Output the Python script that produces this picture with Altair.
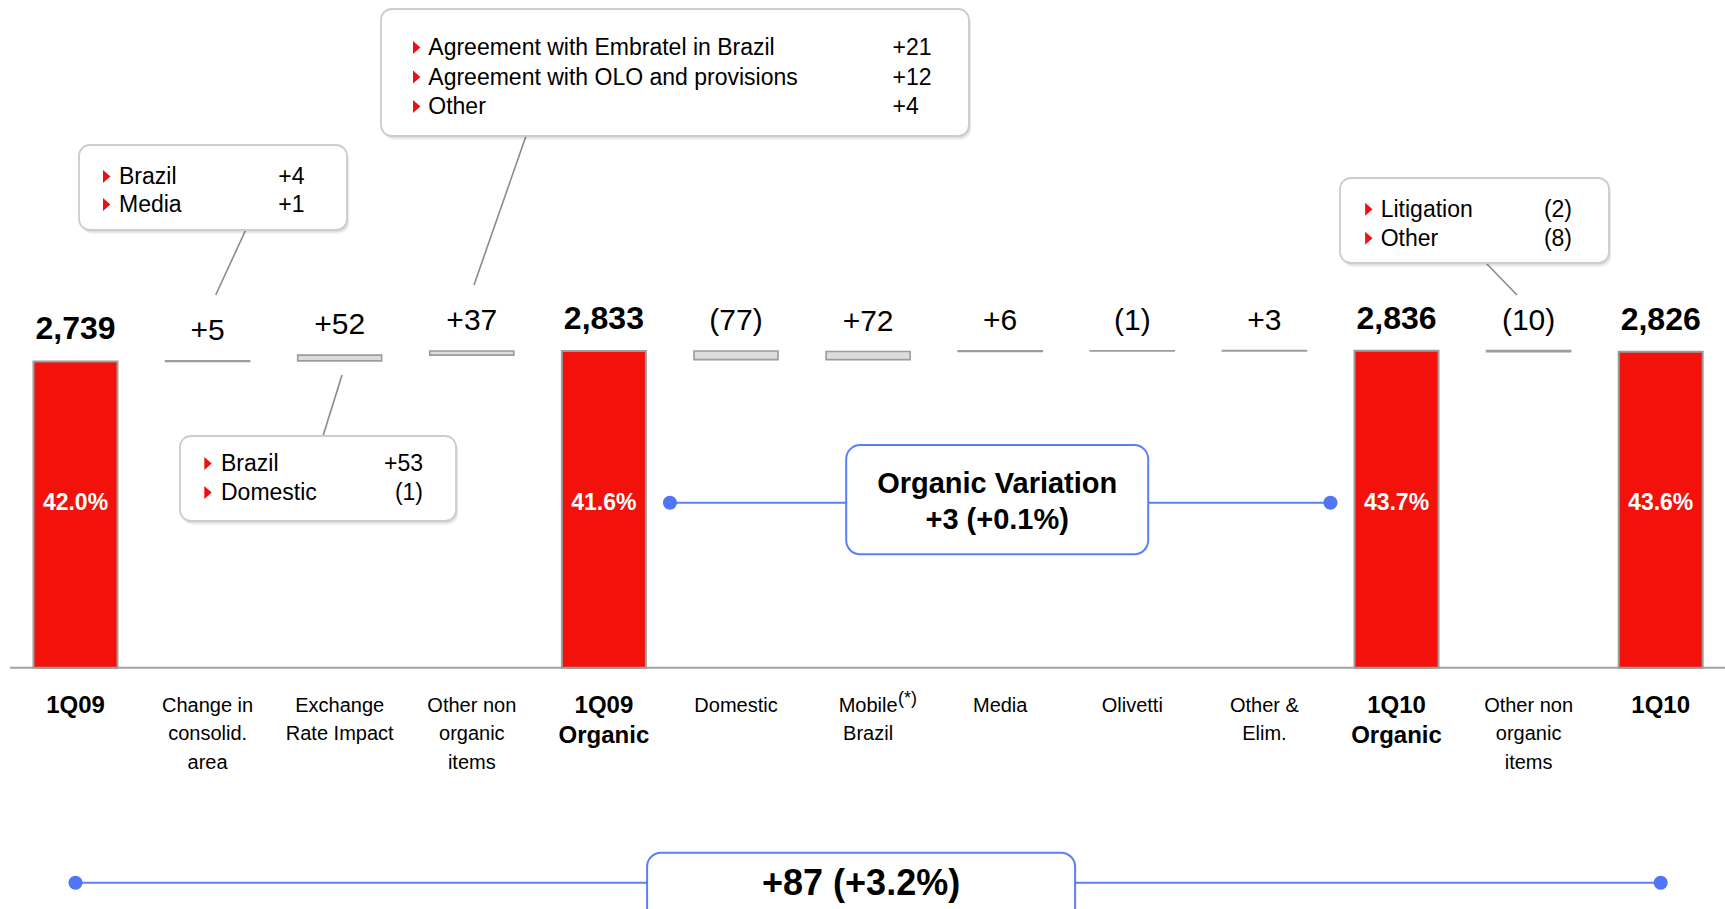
import altair as alt
import pandas as pd

# ---------------- values ----------------
categories = ["1Q09", "Change in\nconsolid.\narea", "Exchange\nRate Impact", "Other non\norganic\nitems",
              "1Q09\nOrganic", "Domestic", "Mobile\nBrazil", "Media", "Olivetti", "Other &\nElim.",
              "1Q10\nOrganic", "Other non\norganic\nitems", "1Q10"]
is_total = [True, False, False, False, True, False, False, False, False, False, True, False, True]
amounts = [2739, 5, 52, 37, 2833, -77, 72, 6, -1, 3, 2836, -10, 2826]
margins = ["42.0%", "", "", "", "41.6%", "", "", "", "", "", "43.7%", "", "43.6%"]

consolid_items = ["Brazil", "Media"]
consolid_values = [4, 1]
fx_items = ["Brazil", "Domestic"]
fx_values = [53, -1]
nonorg_items = ["Agreement with Embratel in Brazil", "Agreement with OLO and provisions", "Other"]
nonorg_values = [21, 12, 4]
nonorg2_items = ["Litigation", "Other"]
nonorg2_values = [-2, -8]

# ---------------- styling ----------------
FONT = "Liberation Sans, Arial, Helvetica, sans-serif"
RED = "#f2110b"
EDGE = "#9c9c9c"
BLUE = "#5b7ff6"
DOT = "#4e76f6"
X0, STEP = 75.5, 132.1
BAR_HALF = 42 / STEP

xs = alt.Scale(domain=[0, 12], range=[X0, X0 + 12 * STEP], nice=False, zero=False)
ys = alt.Scale(domain=[0, 1000], range=[667.7, 667.7 - 111.8], nice=False, zero=False)


def fmt_delta(v):
    return f"+{v}" if v >= 0 else f"({-v})"


# ---------------- waterfall table ----------------
rows = []
running = 0
for i, (cat, tot, amt, mg) in enumerate(zip(categories, is_total, amounts, margins)):
    if tot:
        start, end = 0, amt
        running = amt
    else:
        start, end = running, running + amt
        running += amt
    rows.append(dict(i=i, cat=cat, total=tot, start=start, end=end, top=max(start, end),
                     label=f"{amt:,}" if tot else fmt_delta(amt), margin=mg,
                     x0=i - BAR_HALF, x1=i + BAR_HALF))
bars = pd.DataFrame(rows)
totals = bars[bars["total"]]
deltas = bars[~bars["total"]]

X = lambda f: alt.X(f, type="quantitative", scale=xs, axis=None)
Y = lambda f: alt.Y(f, type="quantitative", scale=ys, axis=None)
PX = lambda f: alt.X(f, type="quantitative", scale=None, axis=None)
PY = lambda f: alt.Y(f, type="quantitative", scale=None, axis=None)

layers = []

# baseline
layers.append(alt.Chart(pd.DataFrame({"v": [0]})).mark_rule(color="#a3a3a3", strokeWidth=2).encode(
    x=alt.value(10), x2=alt.value(1725), y=Y("v")))

# bars
layers.append(alt.Chart(totals).mark_rect(fill=RED, stroke=EDGE, strokeWidth=2).encode(
    x=X("x0"), x2=alt.X2("x1"), y=Y("start"), y2=alt.Y2("end")))
layers.append(alt.Chart(deltas).mark_rect(fill="#dcdcdc", stroke=EDGE, strokeWidth=1.6).encode(
    x=X("x0"), x2=alt.X2("x1"), y=Y("start"), y2=alt.Y2("end")))

# value labels
layers.append(alt.Chart(totals).mark_text(font=FONT, fontSize=32, fontWeight="bold", color="black",
                                          baseline="alphabetic", dy=-22).encode(
    x=X("i"), y=Y("end"), text="label:N"))
layers.append(alt.Chart(deltas).mark_text(font=FONT, fontSize=30, color="black",
                                          baseline="alphabetic", dy=-21).encode(
    x=X("i"), y=Y("top"), text="label:N"))
layers.append(alt.Chart(totals).mark_text(font=FONT, fontSize=23, fontWeight="bold", color="white",
                                          baseline="middle").encode(
    x=X("i"), y=alt.value(503), text="margin:N"))

# category labels
layers.append(alt.Chart(totals).mark_text(font=FONT, fontSize=24, fontWeight="bold", color="black",
                                          baseline="alphabetic", lineBreak="\n", lineHeight=29.5).encode(
    x=X("i"), y=alt.value(713), text="cat:N"))
layers.append(alt.Chart(deltas).mark_text(font=FONT, fontSize=20, color="black",
                                          baseline="alphabetic", lineBreak="\n", lineHeight=28.3).encode(
    x=X("i"), y=alt.value(712), text="cat:N"))
layers.append(alt.Chart(bars[bars["cat"] == "Mobile\nBrazil"]).mark_text(
    font=FONT, fontSize=18, color="black", align="left", baseline="alphabetic", dx=30, dy=-8).encode(
    x=X("i"), y=alt.value(712), text=alt.value("(*)")))

# ---------------- callouts ----------------
callouts = [
    dict(items=consolid_items, values=consolid_values, box=(79, 347, 145, 230), first=184, gap=28,
         bullet=106.7, text=119, value=278.3, side="left", leader=(245.7, 230, 215.7, 295)),
    dict(items=fx_items, values=fx_values, box=(180, 456, 436, 521), first=471, gap=29,
         bullet=208, text=221, value=423, side="right", leader=(342, 375, 323, 436)),
    dict(items=nonorg_items, values=nonorg_values, box=(381, 969, 9, 136), first=55, gap=29.5,
         bullet=416.7, text=428.3, value=892.5, side="left", leader=(526, 136, 474, 285)),
    dict(items=nonorg2_items, values=nonorg2_values, box=(1340, 1609, 178, 263), first=216.7, gap=29,
         bullet=1368.8, text=1380.7, value=1572, side="right", leader=(1486, 263, 1517, 295)),
]
box_rows, leader_rows, item_rows = [], [], []
for c in callouts:
    bx0, bx1, by0, by1 = c["box"]
    box_rows.append(dict(x0=bx0, x1=bx1, y0=by0, y1=by1))
    lx0, ly0, lx1, ly1 = c["leader"]
    leader_rows.append(dict(x0=lx0, y0=ly0, x1=lx1, y1=ly1))
    for k, (name, val) in enumerate(zip(c["items"], c["values"])):
        item_rows.append(dict(y=c["first"] + k * c["gap"], name=name, val=fmt_delta(val),
                              bx=c["bullet"], tx=c["text"], vx=c["value"], side=c["side"]))
boxes = pd.DataFrame(box_rows)
leaders = pd.DataFrame(leader_rows)
items = pd.DataFrame(item_rows)

layers.append(alt.Chart(leaders).mark_rule(color="#8a8a8a", strokeWidth=1.6).encode(
    x=PX("x0"), y=PY("y0"), x2=alt.X2("x1"), y2=alt.Y2("y1")))
for off, op in [(4, 0.05), (2.5, 0.06), (1.2, 0.07)]:
    sh = boxes.assign(x0=boxes["x0"] + off * 0.6, x1=boxes["x1"] + off * 0.6,
                      y0=boxes["y0"] + off, y1=boxes["y1"] + off)
    layers.append(alt.Chart(sh).mark_rect(fill="black", opacity=op, cornerRadius=11).encode(
        x=PX("x0"), x2=alt.X2("x1"), y=PY("y0"), y2=alt.Y2("y1")))
layers.append(alt.Chart(boxes).mark_rect(fill="white", stroke="#cdcdcd", strokeWidth=1.8, cornerRadius=11).encode(
    x=PX("x0"), x2=alt.X2("x1"), y=PY("y0"), y2=alt.Y2("y1")))
layers.append(alt.Chart(items).transform_calculate(by="datum.y - 7.5").mark_point(
    shape="M-0.57,-1L0.57,0L-0.57,1Z", filled=True, size=169, color="#ee1010", opacity=1, strokeWidth=0).encode(
    x=PX("bx"), y=PY("by")))
layers.append(alt.Chart(items).mark_text(font=FONT, fontSize=23, color="black", align="left",
                                         baseline="alphabetic").encode(
    x=PX("tx"), y=PY("y"), text="name:N"))
layers.append(alt.Chart(items[items["side"] == "left"]).mark_text(font=FONT, fontSize=23, color="black",
                                                                  align="left", baseline="alphabetic").encode(
    x=PX("vx"), y=PY("y"), text="val:N"))
layers.append(alt.Chart(items[items["side"] == "right"]).mark_text(font=FONT, fontSize=23, color="black",
                                                                   align="right", baseline="alphabetic").encode(
    x=PX("vx"), y=PY("y"), text="val:N"))

# ---------------- variation connectors ----------------
org_delta = amounts[10] - amounts[4]
tot_delta = amounts[12] - amounts[0]
connectors = pd.DataFrame([
    dict(i0=4.5, i1=9.5, y=502.7, half=151, shift=-3, top=445, bottom=554.3, ty=492.5, fs=29,
         text=f"Organic Variation\n{fmt_delta(org_delta)} ({org_delta / amounts[4] * 100:+.1f}%)"),
    dict(i0=0, i1=12, y=882.7, half=214, shift=-7, top=852.7, bottom=940, ty=895, fs=36,
         text=f"{fmt_delta(tot_delta)} ({tot_delta / amounts[0] * 100:+.1f}%)"),
])
connectors["mid"] = (connectors["i0"] + connectors["i1"]) / 2 + connectors["shift"] / STEP
connectors["bx0"] = connectors["mid"] - connectors["half"] / STEP
connectors["bx1"] = connectors["mid"] + connectors["half"] / STEP
ends = pd.concat([connectors[["i0", "y"]].rename(columns={"i0": "i"}),
                  connectors[["i1", "y"]].rename(columns={"i1": "i"})])

layers.append(alt.Chart(connectors).mark_rule(color=BLUE, strokeWidth=2).encode(
    x=X("i0"), x2=alt.X2("i1"), y=PY("y")))
layers.append(alt.Chart(ends).mark_circle(color=DOT, size=200, opacity=1).encode(x=X("i"), y=PY("y")))
layers.append(alt.Chart(connectors).mark_rect(fill="white", stroke=BLUE, strokeWidth=2, cornerRadius=14).encode(
    x=X("bx0"), x2=alt.X2("bx1"), y=PY("top"), y2=alt.Y2("bottom")))
for fs, sub in connectors.groupby("fs"):
    layers.append(alt.Chart(sub).mark_text(font=FONT, fontSize=float(fs), fontWeight="bold", color="black",
                                           baseline="alphabetic", lineBreak="\n", lineHeight=36.5).encode(
        x=X("mid"), y=PY("ty"), text="text:N"))

chart = alt.layer(*layers).resolve_scale(x="independent", y="independent").properties(
    width=1725, height=909, autosize=alt.AutoSizeParams(type="none"), padding=0,
    background="white").configure_view(stroke=None)

chart.save("out.html", embed_options={"renderer": "svg", "actions": False})
